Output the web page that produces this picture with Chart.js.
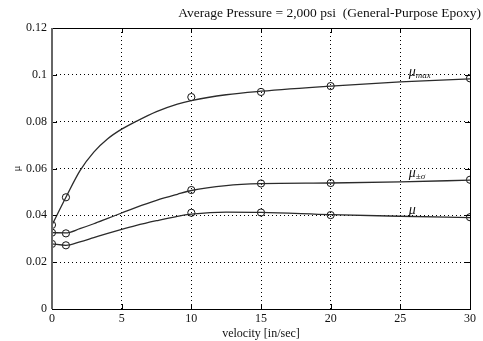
<!DOCTYPE html>
<html>
<head>
<meta charset="utf-8">
<script src="https://cdn.jsdelivr.net/npm/chart.js@4"></script>
<style>
  html, body { margin: 0; padding: 0; background: #fff; }
  canvas { display: block; }
</style>
</head>
<body>
<canvas id="chart" width="483" height="341"></canvas>
<script>
// measured points (circles), velocity in in/sec
const velocity = [0, 1, 10, 15, 20, 30];
const muMax = [0.0359, 0.0477, 0.0905, 0.0927, 0.0952, 0.0985];
const muSigma = [0.0326, 0.0323, 0.0508, 0.0536, 0.0538, 0.0552];
const muMean = [0.0278, 0.0272, 0.0411, 0.0412, 0.0401, 0.0392];

// fitted curves
const curveV = [0, 1, 2, 3, 4, 5, 6, 7.5, 9, 10, 12.5, 15, 20, 25, 30];
const curveMax = [0.0359, 0.0477, 0.0590, 0.0670, 0.0727, 0.0768, 0.0800, 0.0843, 0.0875, 0.0890, 0.0915, 0.0930, 0.0952, 0.0970, 0.0983];
const curveSigma = [0.0326, 0.0325, 0.0343, 0.0364, 0.0387, 0.0410, 0.0433, 0.0464, 0.0490, 0.0506, 0.0527, 0.0535, 0.0538, 0.0543, 0.0550];
const curveMean = [0.0278, 0.0272, 0.0287, 0.0305, 0.0323, 0.0340, 0.0356, 0.0377, 0.0396, 0.0405, 0.0414, 0.0413, 0.0403, 0.0396, 0.0390];

const xTicks = [0, 5, 10, 15, 20, 25, 30];
const yTicks = [0, 0.02, 0.04, 0.06, 0.08, 0.1, 0.12];

const serif = "'Liberation Serif', 'DejaVu Serif', serif";

const toPoints = (xs, ys) => xs.map((v, i) => ({ x: v, y: ys[i] }));

const curveSet = (label, ys) => ({
    label: label,
    data: toPoints(curveV, ys),
    showLine: true,
    borderColor: '#2b2b2b',
    borderWidth: 1.3,
    cubicInterpolationMode: 'monotone',
    pointRadius: 0
});

const markerSet = (label, ys) => ({
    label: label,
    data: toPoints(velocity, ys),
    showLine: false,
    pointStyle: 'circle',
    pointRadius: 3.6,
    pointBorderWidth: 1,
    pointBorderColor: '#111',
    pointBackgroundColor: 'rgba(0,0,0,0)'
});

// Box frame + inward tick marks
const framePlugin = {
    id: 'frame',
    afterDatasetsDraw(chart) {
        const { ctx, chartArea: a, scales } = chart;
        ctx.save();
        ctx.strokeStyle = '#000';
        ctx.lineWidth = 1;
        ctx.setLineDash([]);
        ctx.strokeRect(a.left + 0.5, a.top + 0.5, a.right - a.left, a.bottom - a.top);
        ctx.beginPath();
        xTicks.forEach(t => {
            const px = Math.round(scales.x.getPixelForValue(t)) + 0.5;
            ctx.moveTo(px, a.bottom); ctx.lineTo(px, a.bottom - 5);
            ctx.moveTo(px, a.top); ctx.lineTo(px, a.top + 5);
        });
        yTicks.forEach(t => {
            const py = Math.round(scales.y.getPixelForValue(t)) + 0.5;
            ctx.moveTo(a.left, py); ctx.lineTo(a.left + 5, py);
            ctx.moveTo(a.right, py); ctx.lineTo(a.right - 5, py);
        });
        ctx.stroke();
        // left axis drawn a bit heavier, as in the original
        ctx.strokeStyle = '#666';
        ctx.lineWidth = 2;
        ctx.beginPath();
        ctx.moveTo(a.left, a.top);
        ctx.lineTo(a.left, a.bottom);
        ctx.stroke();
        ctx.restore();
    }
};

// Title and curve labels
const textPlugin = {
    id: 'texts',
    afterDraw(chart) {
        const { ctx, scales } = chart;
        ctx.save();
        ctx.fillStyle = '#111';
        ctx.textBaseline = 'alphabetic';

        // title, right aligned
        ctx.font = '13.5px ' + serif;
        ctx.textAlign = 'right';
        ctx.fillText('Average Pressure = 2,000 psi  (General-Purpose Epoxy)', 481, 17);

        // curve labels
        const labelAt = (sub, yVal) => {
            const px = scales.x.getPixelForValue(25.6);
            const py = scales.y.getPixelForValue(yVal);
            ctx.textAlign = 'left';
            ctx.font = 'italic 14px ' + serif;
            ctx.fillText('μ', px, py);
            if (sub) {
                const w = ctx.measureText('μ').width;
                ctx.font = 'italic 9px ' + serif;
                ctx.fillText(sub, px + w, py + 2);
            }
        };
        labelAt('max', 0.0995);
        labelAt('±σ', 0.0565);
        labelAt('', 0.0405);

        // y axis title (rotated)
        ctx.translate(17, scales.y.getPixelForValue(0.06));
        ctx.rotate(-Math.PI / 2);
        ctx.font = '11px ' + serif;
        ctx.textAlign = 'center';
        ctx.textBaseline = 'middle';
        ctx.fillText('μ', 0, 0);
        ctx.restore();
    }
};

new Chart(document.getElementById('chart').getContext('2d'), {
    type: 'scatter',
    data: {
        datasets: [
            curveSet('μmax fit', curveMax),
            curveSet('μ±σ fit', curveSigma),
            curveSet('μ fit', curveMean),
            markerSet('μmax', muMax),
            markerSet('μ±σ', muSigma),
            markerSet('μ', muMean)
        ]
    },
    options: {
        responsive: false,
        animation: false,
        layout: { padding: { top: 28, right: 13, left: 0, bottom: 0 } },
        plugins: {
            legend: { display: false },
            tooltip: { enabled: false },
            title: { display: false }
        },
        scales: {
            x: {
                type: 'linear',
                min: 0, max: 30,
                afterBuildTicks: s => { s.ticks = xTicks.map(v => ({ value: v })); },
                afterFit: s => { s.height = 32; },
                grid: { color: '#000', lineWidth: 1, drawTicks: false },
                border: { display: false, dash: [1, 3] },
                ticks: {
                    color: '#111',
                    padding: 3,
                    maxRotation: 0,
                    font: { family: serif, size: 12 }
                },
                title: {
                    display: true,
                    text: 'velocity [in/sec]',
                    color: '#111',
                    padding: { top: -2, bottom: 0 },
                    font: { family: serif, size: 12 }
                }
            },
            y: {
                min: 0, max: 0.12,
                afterBuildTicks: s => { s.ticks = yTicks.map(v => ({ value: v })); },
                afterFit: s => { s.width = 52; },
                grid: { color: '#000', lineWidth: 1, drawTicks: false },
                border: { display: false, dash: [1, 3] },
                ticks: {
                    color: '#111',
                    padding: 5,
                    font: { family: serif, size: 12 },
                    callback: v => String(Number(v.toFixed(2)))
                }
            }
        }
    },
    plugins: [framePlugin, textPlugin]
});
</script>
</body>
</html>
